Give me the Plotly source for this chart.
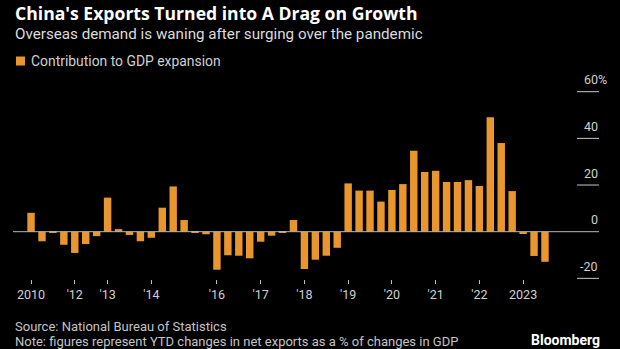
import plotly.graph_objects as go
import numpy as np

# Data: contribution of net exports to GDP expansion (%)
values = [8.1, -4.1, -0.4, -5.6, -9.1, -5.3, -1.9, 14.6, 1.1, -1.4, -4.1, -2.6,
          10.3, 19.4, 5.0, -0.4, -1.1, -16.3, -10.1, -10.3, -11.4, -4.3, -1.7, -0.4,
          5.0, -16.0, -12.0, -10.3, -6.9, 20.7, 17.6, 17.6, 12.9, 17.9, 20.4, 34.7,
          25.6, 26.1, 21.3, 21.3, 22.1, 19.6, 49.0, 38.0, 17.4, -1.0, -10.4, -12.9]
tick_pos = [0, 4, 7, 11, 17, 21, 25, 29, 33, 37, 41, 45]
tick_text = ["2010", "'12", "'13", "'14", "'16", "'17", "'18", "'19", "'20", "'21", "'22", "2023"]
y_ticks = [60, 40, 20, 0, -20]

BAR = "#E8962D"
W, H = 620, 349
ML, MR, MT, MB = 13, 21, 88, 70
PW = W - ML - MR
PH = H - MT - MB
FONT = "Roboto"

def py(pix):
    return (H - MB - pix) / PH

def px(pix):
    return (pix - ML) / PW

x = np.arange(len(values))

fig = go.Figure(go.Bar(x=x, y=values, marker=dict(color=BAR, line=dict(width=0)),
                       width=0.68, showlegend=False))

shapes = []
anns = []
for v in y_ticks:
    if v == 0:
        shapes.append(dict(type="line", xref="paper", yref="y", x0=0, x1=1, y0=0, y1=0,
                           line=dict(color="#b8b8b8", width=1), layer="above"))
    else:
        shapes.append(dict(type="line", xref="paper", yref="y", x0=0.9625, x1=1, y0=v, y1=v,
                           line=dict(color="#c8c8c8", width=1)))
    anns.append(dict(xref="paper", yref="y", x=1, y=v, text=str(v), showarrow=False,
                     xanchor="right", yanchor="middle", yshift=12, xshift=1,
                     font=dict(family=FONT, size=12.5, color="#d0d0d0")))
anns.append(dict(xref="paper", yref="y", x=1, y=y_ticks[0], text="%", showarrow=False,
                 xanchor="left", yanchor="middle", yshift=12, xshift=-3,
                 font=dict(family=FONT, size=12.5, color="#d0d0d0")))

# legend square
shapes.append(dict(type="rect", xref="paper", yref="paper", x0=px(16), x1=px(25),
                   y0=py(65.5), y1=py(56.5), fillcolor=BAR, line=dict(width=0)))

anns += [
    dict(xref="paper", yref="paper", x=0, y=py(13), xshift=0, text="<b>China's Exports Turned into A Drag on Growth</b>",
         showarrow=False, xanchor="left", yanchor="middle",
         font=dict(family="Open Sans", size=17.6, color="#ffffff")),
    dict(xref="paper", yref="paper", x=0, y=py(34), xshift=0, text="Overseas demand is waning after surging over the pandemic",
         showarrow=False, xanchor="left", yanchor="middle",
         font=dict(family=FONT, size=15.2, color="#dcdcdc")),
    dict(xref="paper", yref="paper", x=px(29), y=py(61), text="Contribution to GDP expansion",
         showarrow=False, xanchor="left", yanchor="middle",
         font=dict(family=FONT, size=13.9, color="#cfcfcf")),
    dict(xref="paper", yref="paper", x=0, y=py(326.5), xshift=0, text="Source: National Bureau of Statistics",
         showarrow=False, xanchor="left", yanchor="middle",
         font=dict(family=FONT, size=13, color="#c4c4c4")),
    dict(xref="paper", yref="paper", x=0, y=py(341.5), xshift=0,
         text="Note: figures represent YTD changes in net exports as a % of changes in GDP",
         showarrow=False, xanchor="left", yanchor="middle",
         font=dict(family=FONT, size=13, color="#c4c4c4")),
    dict(xref="paper", yref="paper", x=1, y=py(340), xshift=3, text="<b>Bloomberg</b>",
         showarrow=False, xanchor="right", yanchor="middle",
         font=dict(family=FONT, size=14, color="#ffffff")),
]

y_top = (231.7 - MT) / 2.3333
y_bot = (231.7 - (H - MB)) / 2.3333

fig.update_layout(
    width=W, height=H, margin=dict(l=ML, r=MR, t=MT, b=MB),
    paper_bgcolor="#000000", plot_bgcolor="#000000",
    bargap=0.32,
    xaxis=dict(range=[-1.65, 51.94], tickmode="array", tickvals=tick_pos, ticktext=tick_text,
               ticks="outside", ticklen=4, tickcolor="#bbbbbb", tickwidth=1,
               showgrid=False, zeroline=False, showline=False,
               tickfont=dict(family=FONT, size=12.5, color="#d0d0d0")),
    yaxis=dict(range=[y_bot, y_top], showgrid=False, zeroline=False, showticklabels=False,
               showline=False, ticks=""),
    shapes=shapes, annotations=anns,
)

fig.write_html("out.html")
